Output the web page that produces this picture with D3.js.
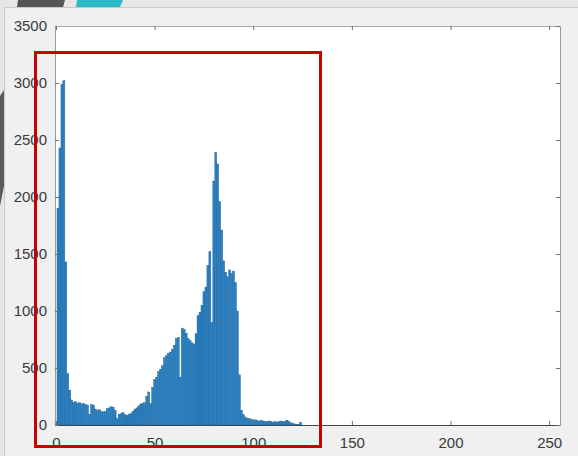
<!DOCTYPE HTML>
<html>
<head>
<meta charset='UTF-8'>
<style>
  body { margin:0; background:#e9e9e9; }
  svg { display:block; }
  .axis text { font-family: "Liberation Sans", Arial, sans-serif; font-size:15px; fill:#3a3a3a; }
  .axis path, .axis line { stroke:#6e6e6e; }
  .bar { fill:#2b83c6; stroke:#1d5f94; stroke-width:0.4px; }
</style>
<title>Histogram</title>
<script src="https://d3js.org/d3.v7.min.js"></script>
</head>
<body>
<script>
// pixel counts per grey level, bins 0..125
var counts = [
  30, 1900, 2430, 2990, 3020, 1430, 450, 305, 220, 200,
  205, 190, 195, 185, 190, 180, 175, 95, 180, 175,
  140, 130, 135, 120, 115, 120, 145, 150, 160, 155,
  130, 55, 95, 100, 110, 90, 85, 95, 100, 120,
  137, 150, 167, 184, 190, 196, 250, 290, 190, 330,
  400, 420, 470, 490, 520, 590, 610, 630, 640, 665,
  700, 760, 770, 420, 850, 840, 805, 760, 740, 720,
  710, 800, 960, 990, 1050, 1170, 1210, 1400, 1520, 900,
  2140, 2390, 2290, 1960, 1710, 1440, 1340, 1300, 1360, 1330,
  1350, 1250, 1000, 440, 130, 90, 70, 60, 55, 50,
  45, 45, 40, 35, 40, 35, 30, 30, 35, 30,
  25, 30, 25, 30, 35, 30, 30, 40, 35, 20,
  15, 10, 5, 5, 25, 0
];
var xTicks = [0, 50, 100, 150, 200, 250];
var yTicks = [0, 500, 1000, 1500, 2000, 2500, 3000, 3500];

var W = 578, H = 456;
var box = {left:55, right:560, top:26, bottom:425};

var svg = d3.select("body").append("svg")
    .attr("width", W).attr("height", H);

// slide background bits
svg.append("rect").attr("width", W).attr("height", H).attr("fill", "#e6e6e6");
svg.append("polygon").attr("points", "18,0 65,0 63,7 17,7").attr("fill", "#565656");
svg.append("polygon").attr("points", "77,0 123,0 120,7 76,7").attr("fill", "#2bbcc5");
svg.append("rect").attr("x", 4.5).attr("y", 7.5).attr("width", W).attr("height", H)
    .attr("fill", "#f0f0f0").attr("stroke", "#c9c9c9");
svg.append("polygon").attr("points", "0,96 4,90 4,186 0,206").attr("fill", "#5a5a5a");

var x = d3.scaleLinear().domain([-0.5, 255.5]).range([box.left, box.right]);
var y = d3.scaleLinear().domain([0, 3500]).range([box.bottom, box.top]);

svg.append("rect")
    .attr("x", box.left).attr("y", box.top)
    .attr("width", box.right - box.left).attr("height", box.bottom - box.top)
    .attr("fill", "#ffffff");

svg.selectAll(".bar")
    .data(counts)
    .enter().append("rect")
    .attr("class", "bar")
    .attr("x", function(d, i) { return x(i - 0.5); })
    .attr("width", function(d, i) { return x(i + 0.5) - x(i - 0.5); })
    .attr("y", function(d) { return y(d); })
    .attr("height", function(d) { return y(0) - y(d); });

// box with inward ticks, like matlab
svg.append("g").attr("class", "axis")
    .attr("transform", "translate(0," + box.bottom + ")")
    .call(d3.axisBottom(x).tickValues(xTicks).tickFormat(d3.format("d"))
        .tickSizeInner(-4).tickSizeOuter(0).tickPadding(12))
    .select(".domain").style("stroke", "#444");

svg.append("g").attr("class", "axis")
    .attr("transform", "translate(" + box.left + ",0)")
    .call(d3.axisLeft(y).tickValues(yTicks).tickFormat(d3.format("d"))
        .tickSizeInner(-4).tickSizeOuter(0).tickPadding(8))
    .select(".domain").style("stroke", "#9a9a9a");

svg.append("g").attr("class", "axis")
    .attr("transform", "translate(0," + box.top + ")")
    .call(d3.axisTop(x).tickValues(xTicks).tickSizeInner(-4).tickSizeOuter(0).tickFormat(""))
    .select(".domain").style("stroke", "#a8a8a8");

svg.append("g").attr("class", "axis")
    .attr("transform", "translate(" + box.right + ",0)")
    .call(d3.axisRight(y).tickValues(yTicks).tickSizeInner(-4).tickSizeOuter(0).tickFormat(""))
    .select(".domain").style("stroke", "#9a9a9a");

// red highlight frame
svg.append("rect")
    .attr("x", 35.5).attr("y", 52.5)
    .attr("width", 285).attr("height", 394)
    .attr("fill", "none").attr("stroke", "#c80000").attr("stroke-width", 3);
</script>
</body>
</html>
